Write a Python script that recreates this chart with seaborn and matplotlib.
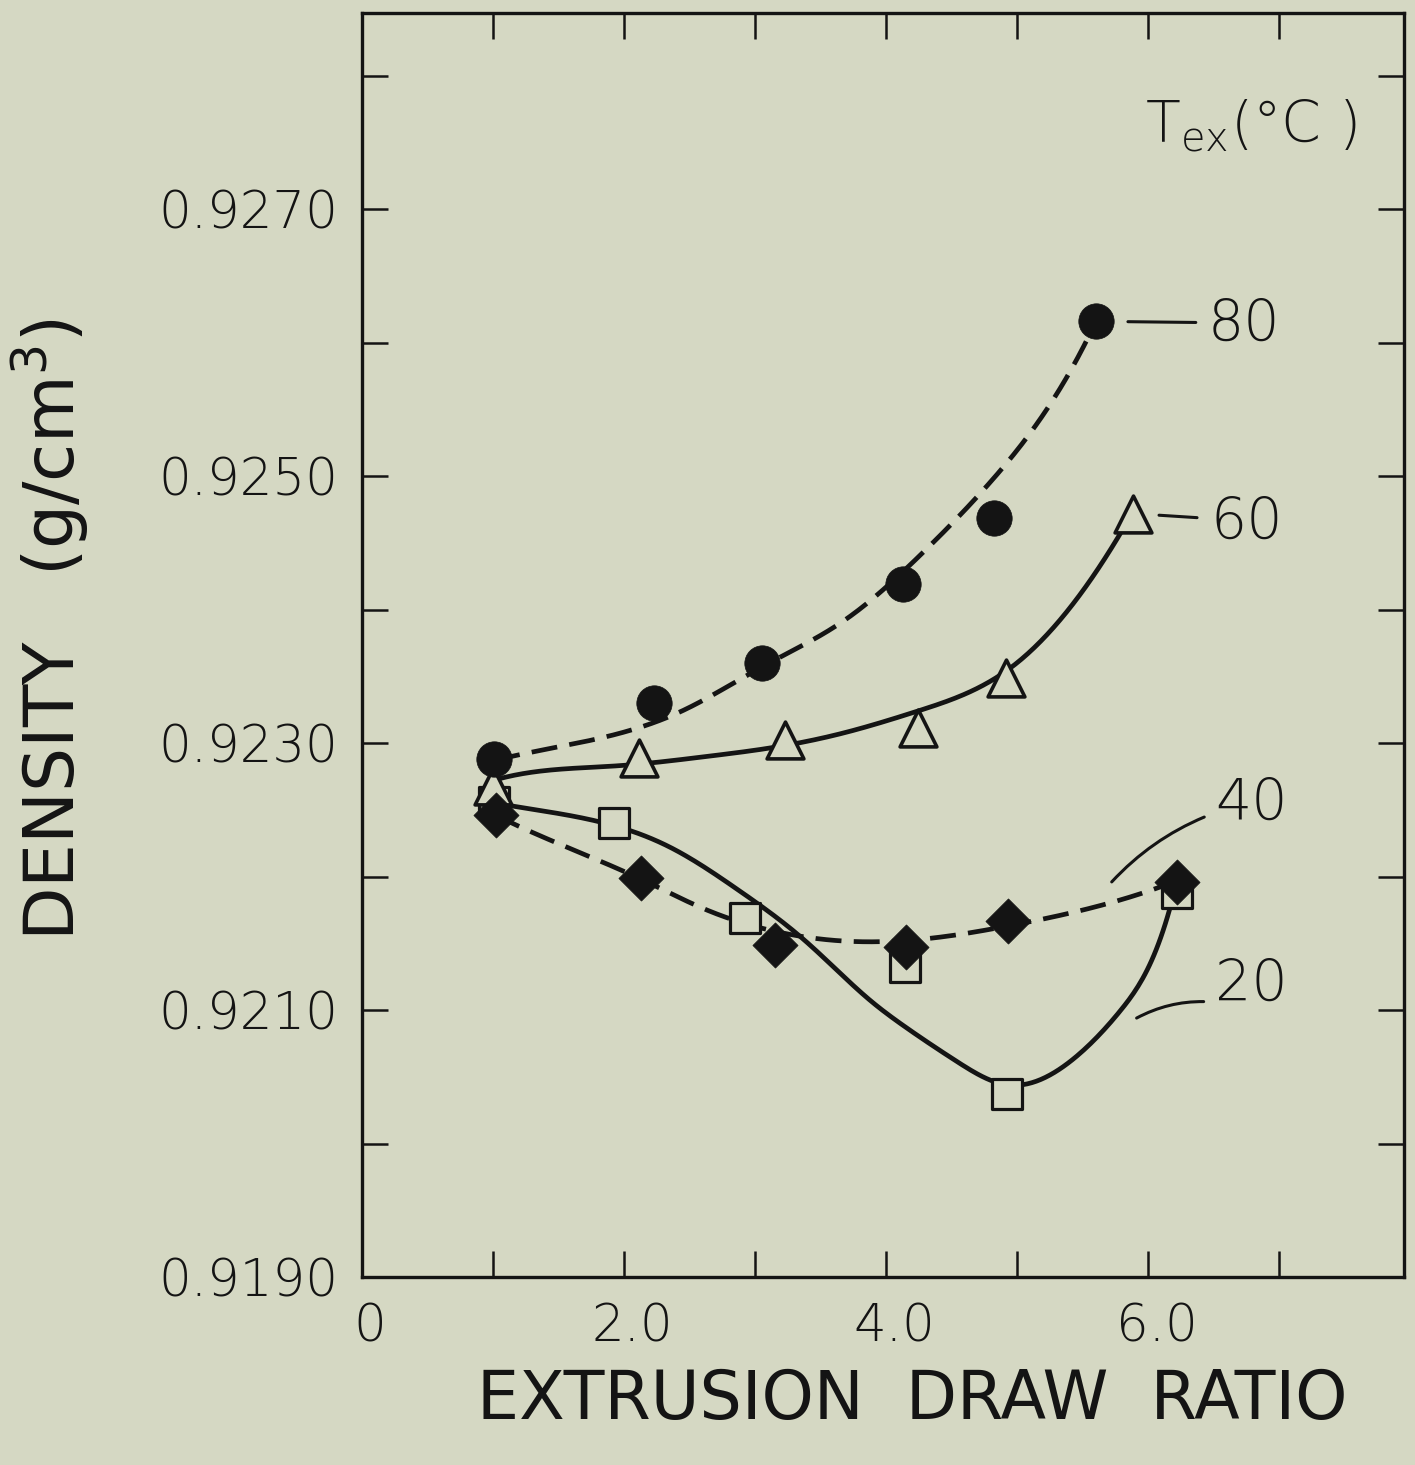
import numpy as np
import pandas as pd
import matplotlib
matplotlib.use("Agg")
import matplotlib.pyplot as plt
import matplotlib.transforms as mtransforms
import seaborn as sns

# Measured densities versus extrusion draw ratio, one series per extrusion temperature
draw_80 = [1.01, 2.23, 3.05, 4.13, 4.82, 5.60]
dens_80 = [0.92288, 0.92330, 0.92360, 0.92419, 0.92469, 0.92616]
draw_60 = [1.00, 2.11, 3.23, 4.24, 4.91, 5.88]
dens_60 = [0.92268, 0.92289, 0.92302, 0.92311, 0.92349, 0.92472]
draw_40 = [1.02, 2.13, 3.15, 4.15, 4.93, 6.22]
dens_40 = [0.92246, 0.92199, 0.92149, 0.92147, 0.92167, 0.92196]
draw_20 = [1.01, 1.92, 2.92, 4.14, 4.92, 6.22]
dens_20 = [0.92256, 0.92240, 0.92169, 0.92132, 0.92037, 0.92188]

# Hand-drawn trend curves (knots along each smooth curve)
fit_80_x = [1.01, 1.83, 2.44, 3.05, 3.71, 4.24, 4.78, 5.19, 5.60]
fit_80_y = [0.92287, 0.92304, 0.92324, 0.92357, 0.92394, 0.92439, 0.92494, 0.92545, 0.92616]
fit_60_x = [1.00, 1.36, 1.95, 2.63, 3.09, 3.65, 4.24, 4.77, 4.97, 5.43, 5.88]
fit_60_y = [0.92272, 0.92279, 0.92283, 0.92290, 0.92296, 0.92307, 0.92324, 0.92345, 0.92358, 0.92405, 0.92473]
fit_40_x = [1.02, 1.54, 2.13, 2.63, 3.15, 3.63, 4.44, 4.93, 5.66, 6.22]
fit_40_y = [0.92246, 0.92223, 0.92198, 0.92175, 0.92159, 0.92152, 0.92155, 0.92163, 0.92179, 0.92197]
fit_20_x = [1.02, 1.77, 2.35, 2.87, 3.38, 3.88, 4.15, 4.53, 4.92, 5.41, 5.79, 6.05, 6.18]
fit_20_y = [0.92255, 0.92242, 0.92222, 0.92190, 0.92152, 0.92107, 0.92087, 0.92062, 0.92044, 0.92062, 0.92100, 0.92143, 0.92182]

x_ticks = [0, 1, 2, 3, 4, 5, 6, 7]
x_tick_labels = ["0", "", "2.0", "", "4.0", "", "6.0", ""]
y_ticks = [0.919, 0.920, 0.921, 0.922, 0.923, 0.924, 0.925, 0.926, 0.927, 0.928]
y_tick_labels = ["0.9190", "", "0.9210", "", "0.9230", "", "0.9250", "", "0.9270", ""]

PAPER = "#d5d8c3"
INK = "#141414"


def smooth_curve(xk, yk, n=300):
    """Not-a-knot cubic spline through the knots, sampled on n points."""
    x = np.asarray(xk, float)
    y = np.asarray(yk, float)
    m = len(x)
    h = np.diff(x)
    A = np.zeros((m, m))
    r = np.zeros(m)
    # third derivative continuous across the second and the next-to-last knot
    A[0, 0], A[0, 1], A[0, 2] = h[1], -(h[0] + h[1]), h[0]
    A[-1, -3], A[-1, -2], A[-1, -1] = h[-1], -(h[-2] + h[-1]), h[-2]
    for i in range(1, m - 1):
        A[i, i - 1] = h[i - 1]
        A[i, i] = 2 * (h[i - 1] + h[i])
        A[i, i + 1] = h[i]
        r[i] = 3 * ((y[i + 1] - y[i]) / h[i] - (y[i] - y[i - 1]) / h[i - 1])
    c = np.linalg.solve(A, r)
    b = (y[1:] - y[:-1]) / h - h * (2 * c[:-1] + c[1:]) / 3
    d = (c[1:] - c[:-1]) / (3 * h)
    xs = np.linspace(x[0], x[-1], n)
    idx = np.clip(np.searchsorted(x, xs) - 1, 0, m - 2)
    dx = xs - x[idx]
    ys = y[idx] + b[idx] * dx + c[idx] * dx ** 2 + d[idx] * dx ** 3
    return xs, ys


sns.set_theme(style="ticks")
plt.rcParams["font.family"] = ["DejaVu Sans"]
plt.rcParams["mathtext.fontset"] = "dejavusans"

fig = plt.figure(figsize=(14.15, 14.65), dpi=100, facecolor=PAPER)
ax = fig.add_axes([362 / 1415, 188 / 1465, 1042 / 1415, 1264 / 1465])
ax.set_facecolor(PAPER)

# Trend curves
curves = [
    (fit_80_x, fit_80_y, (5.5, 2.6)),
    (fit_60_x, fit_60_y, None),
    (fit_40_x, fit_40_y, (5.5, 2.6)),
    (fit_20_x, fit_20_y, None),
]
for fx, fy, dash in curves:
    xs, ys = smooth_curve(fx, fy)
    line_df = pd.DataFrame({"draw": xs, "density": ys})
    sns.lineplot(data=line_df, x="draw", y="density", ax=ax, color=INK,
                 lw=3.4, sort=False, estimator=None, zorder=2)
    if dash is not None:
        ax.lines[-1].set_dashes(dash)
        ax.lines[-1].set_dash_capstyle("butt")

# Measured points
points = [
    (draw_20, dens_20, "s", PAPER, 21.5, 2.3),
    (draw_60, dens_60, "^", PAPER, 26.5, 2.6),
    (draw_40, dens_40, "D", INK, 23.0, 0.5),
    (draw_80, dens_80, "o", INK, 25.5, 0.5),
]
for z, (px, py, mk, fc, ms, mew) in enumerate(points):
    pt_df = pd.DataFrame({"draw": px, "density": py})
    sns.scatterplot(data=pt_df, x="draw", y="density", ax=ax, marker=mk,
                    s=ms ** 2, facecolor=fc, edgecolor=INK, linewidth=mew,
                    zorder=3 + z, legend=False)

# Axis setup
ax.set_xlim(0, 7.95)
ax.set_ylim(0.919, 0.92847)
ax.set_xticks(x_ticks)
ax.set_xticklabels(x_tick_labels)
ax.set_yticks(y_ticks)
ax.set_yticklabels(y_tick_labels)
ax.tick_params(axis="both", which="major", direction="in", length=18.5,
               width=1.8, color=INK, labelcolor=INK, labelsize=37,
               top=True, right=True)
ax.tick_params(axis="x", pad=18)
ax.tick_params(axis="y", pad=17)
for lab in ax.get_xticklabels() + ax.get_yticklabels():
    lab.set_fontweight("light")
# nudge the draw-ratio numbers slightly to the right
shift = mtransforms.ScaledTranslation(8 / 100, 0, fig.dpi_scale_trans)
for lab in ax.get_xticklabels():
    lab.set_transform(lab.get_transform() + shift)
for sp in ax.spines.values():
    sp.set_visible(True)
    sp.set_linewidth(2.4)
    sp.set_color(INK)

ax.set_xlabel("EXTRUSION  DRAW  RATIO", fontsize=48, color=INK, va="center")
ax.xaxis.set_label_coords(0.528, -0.0973)
ax.set_ylabel("DENSITY   (g/cm$^3$)", fontsize=50, color=INK, va="center")
ax.yaxis.set_label_coords(-0.2994, 0.512)

# Temperature labels
ax.text(0.7514, 0.898, r"T$_{\mathregular{ex}}$(°C )", transform=ax.transAxes,
        fontsize=41, fontweight="light", color=INK, ha="left", va="baseline")

lead = dict(arrowstyle="-", lw=2.2, color=INK)
ax.annotate("80", xy=(draw_80[-1], dens_80[-1]), xytext=(6.45, 0.92613),
            fontsize=41, fontweight="light", color=INK, ha="left", va="center",
            arrowprops=dict(lead, shrinkA=6, shrinkB=23, relpos=(0, 0.55)))
ax.annotate("60", xy=(draw_60[-1], dens_60[-1]), xytext=(6.47, 0.92465),
            fontsize=41, fontweight="light", color=INK, ha="left", va="center",
            arrowprops=dict(lead, shrinkA=7, shrinkB=19, relpos=(0, 0.58)))
ax.annotate("40", xy=(5.72, 0.92196), xytext=(6.51, 0.92254),
            fontsize=41, fontweight="light", color=INK, ha="left", va="center",
            arrowprops=dict(lead, shrinkA=6, shrinkB=0, relpos=(0, 0.35),
                            connectionstyle="arc3,rad=0.12"))
ax.annotate("20", xy=(5.91, 0.92094), xytext=(6.51, 0.92119),
            fontsize=41, fontweight="light", color=INK, ha="left", va="center",
            arrowprops=dict(lead, shrinkA=6, shrinkB=0, relpos=(0, 0.18),
                            connectionstyle="arc3,rad=0.15"))

fig.savefig("out.png", dpi=100, facecolor=PAPER)
